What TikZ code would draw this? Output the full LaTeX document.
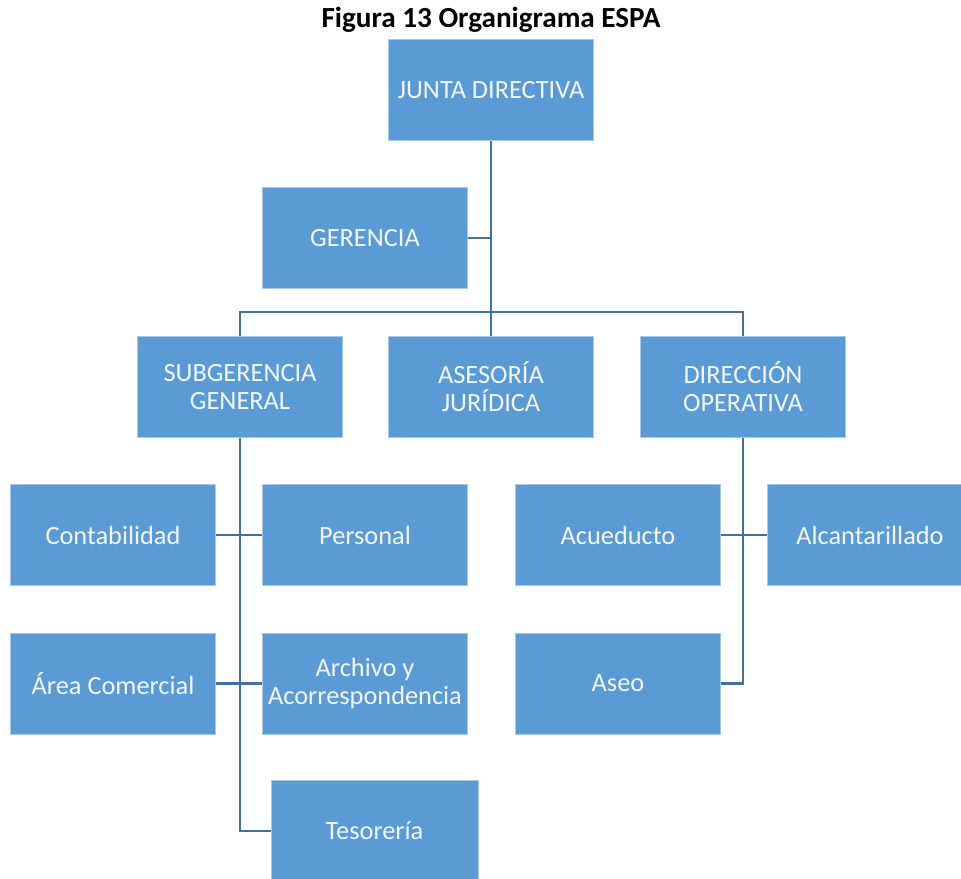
\documentclass[tikz,border=0pt]{standalone}
\usepackage{fontspec}
\setmainfont{Carlito}
\definecolor{boxblue}{HTML}{5B9BD5}
\definecolor{lineblue}{HTML}{41719C}
\definecolor{boxtext}{HTML}{F2F6FB}
\begin{document}
\begin{tikzpicture}[x=0.02cm,y=-0.02cm,
  orgbox/.style={rectangle, fill=boxblue, draw=boxblue!55!white, line width=0.4pt,
    minimum width=4.1cm, minimum height=2.02cm, inner sep=2pt, align=center,
    text=boxtext, font=\fontsize{15}{16}\selectfont},
  conn/.style={draw=lineblue, line width=1.4pt}]
\useasboundingbox (0,0) rectangle (961,879);
\clip (0,0) rectangle (961,879);
\node[font=\bfseries\fontsize{16.6}{19}\selectfont] (title) at (491,20) {Figura 13 Organigrama ESPA};
\node[orgbox] (junta) at (491,90) {JUNTA DIRECTIVA};
\node[orgbox] (ger) at (365,238) {GERENCIA};
\node[orgbox] (sub) at (240,387) {SUBGERENCIA\\GENERAL};
\node[orgbox] (ase) at (491,387) {ASESORÍA\\JURÍDICA};
\node[orgbox] (dir) at (743,387) {DIRECCIÓN\\OPERATIVA};
\node[orgbox] (cont) at (113,535) {Contabilidad};
\node[orgbox] (pers) at (365,535) {Personal};
\node[orgbox] (area) at (113,683.5) {Área Comercial};
\node[orgbox] (arch) at (365,683.5) {Archivo y\\Acorrespondencia};
\node[orgbox, minimum width=4.14cm] (teso) at (374.5,831) {Tesorería};
\node[orgbox] (acue) at (618,535) {Acueducto};
\node[orgbox] (alca) at (870,535) {Alcantarillado};
\node[orgbox] (aseo) at (618,683.5) {Aseo};
\draw[conn] (junta.south) -- (ase.north);
\draw[conn] (ger.east) -- (ger.east -| junta.south);
\draw[conn] (sub.north) -- ++(0,-24) -| (dir.north);
\draw[conn] (sub.south) |- (teso.west);
\draw[conn] (cont.east) -- (pers.west);
\draw[conn] (area.east) -- (arch.west);
\draw[conn] (dir.south) |- (aseo.east);
\draw[conn] (acue.east) -- (alca.west);
\end{tikzpicture}
\end{document}
